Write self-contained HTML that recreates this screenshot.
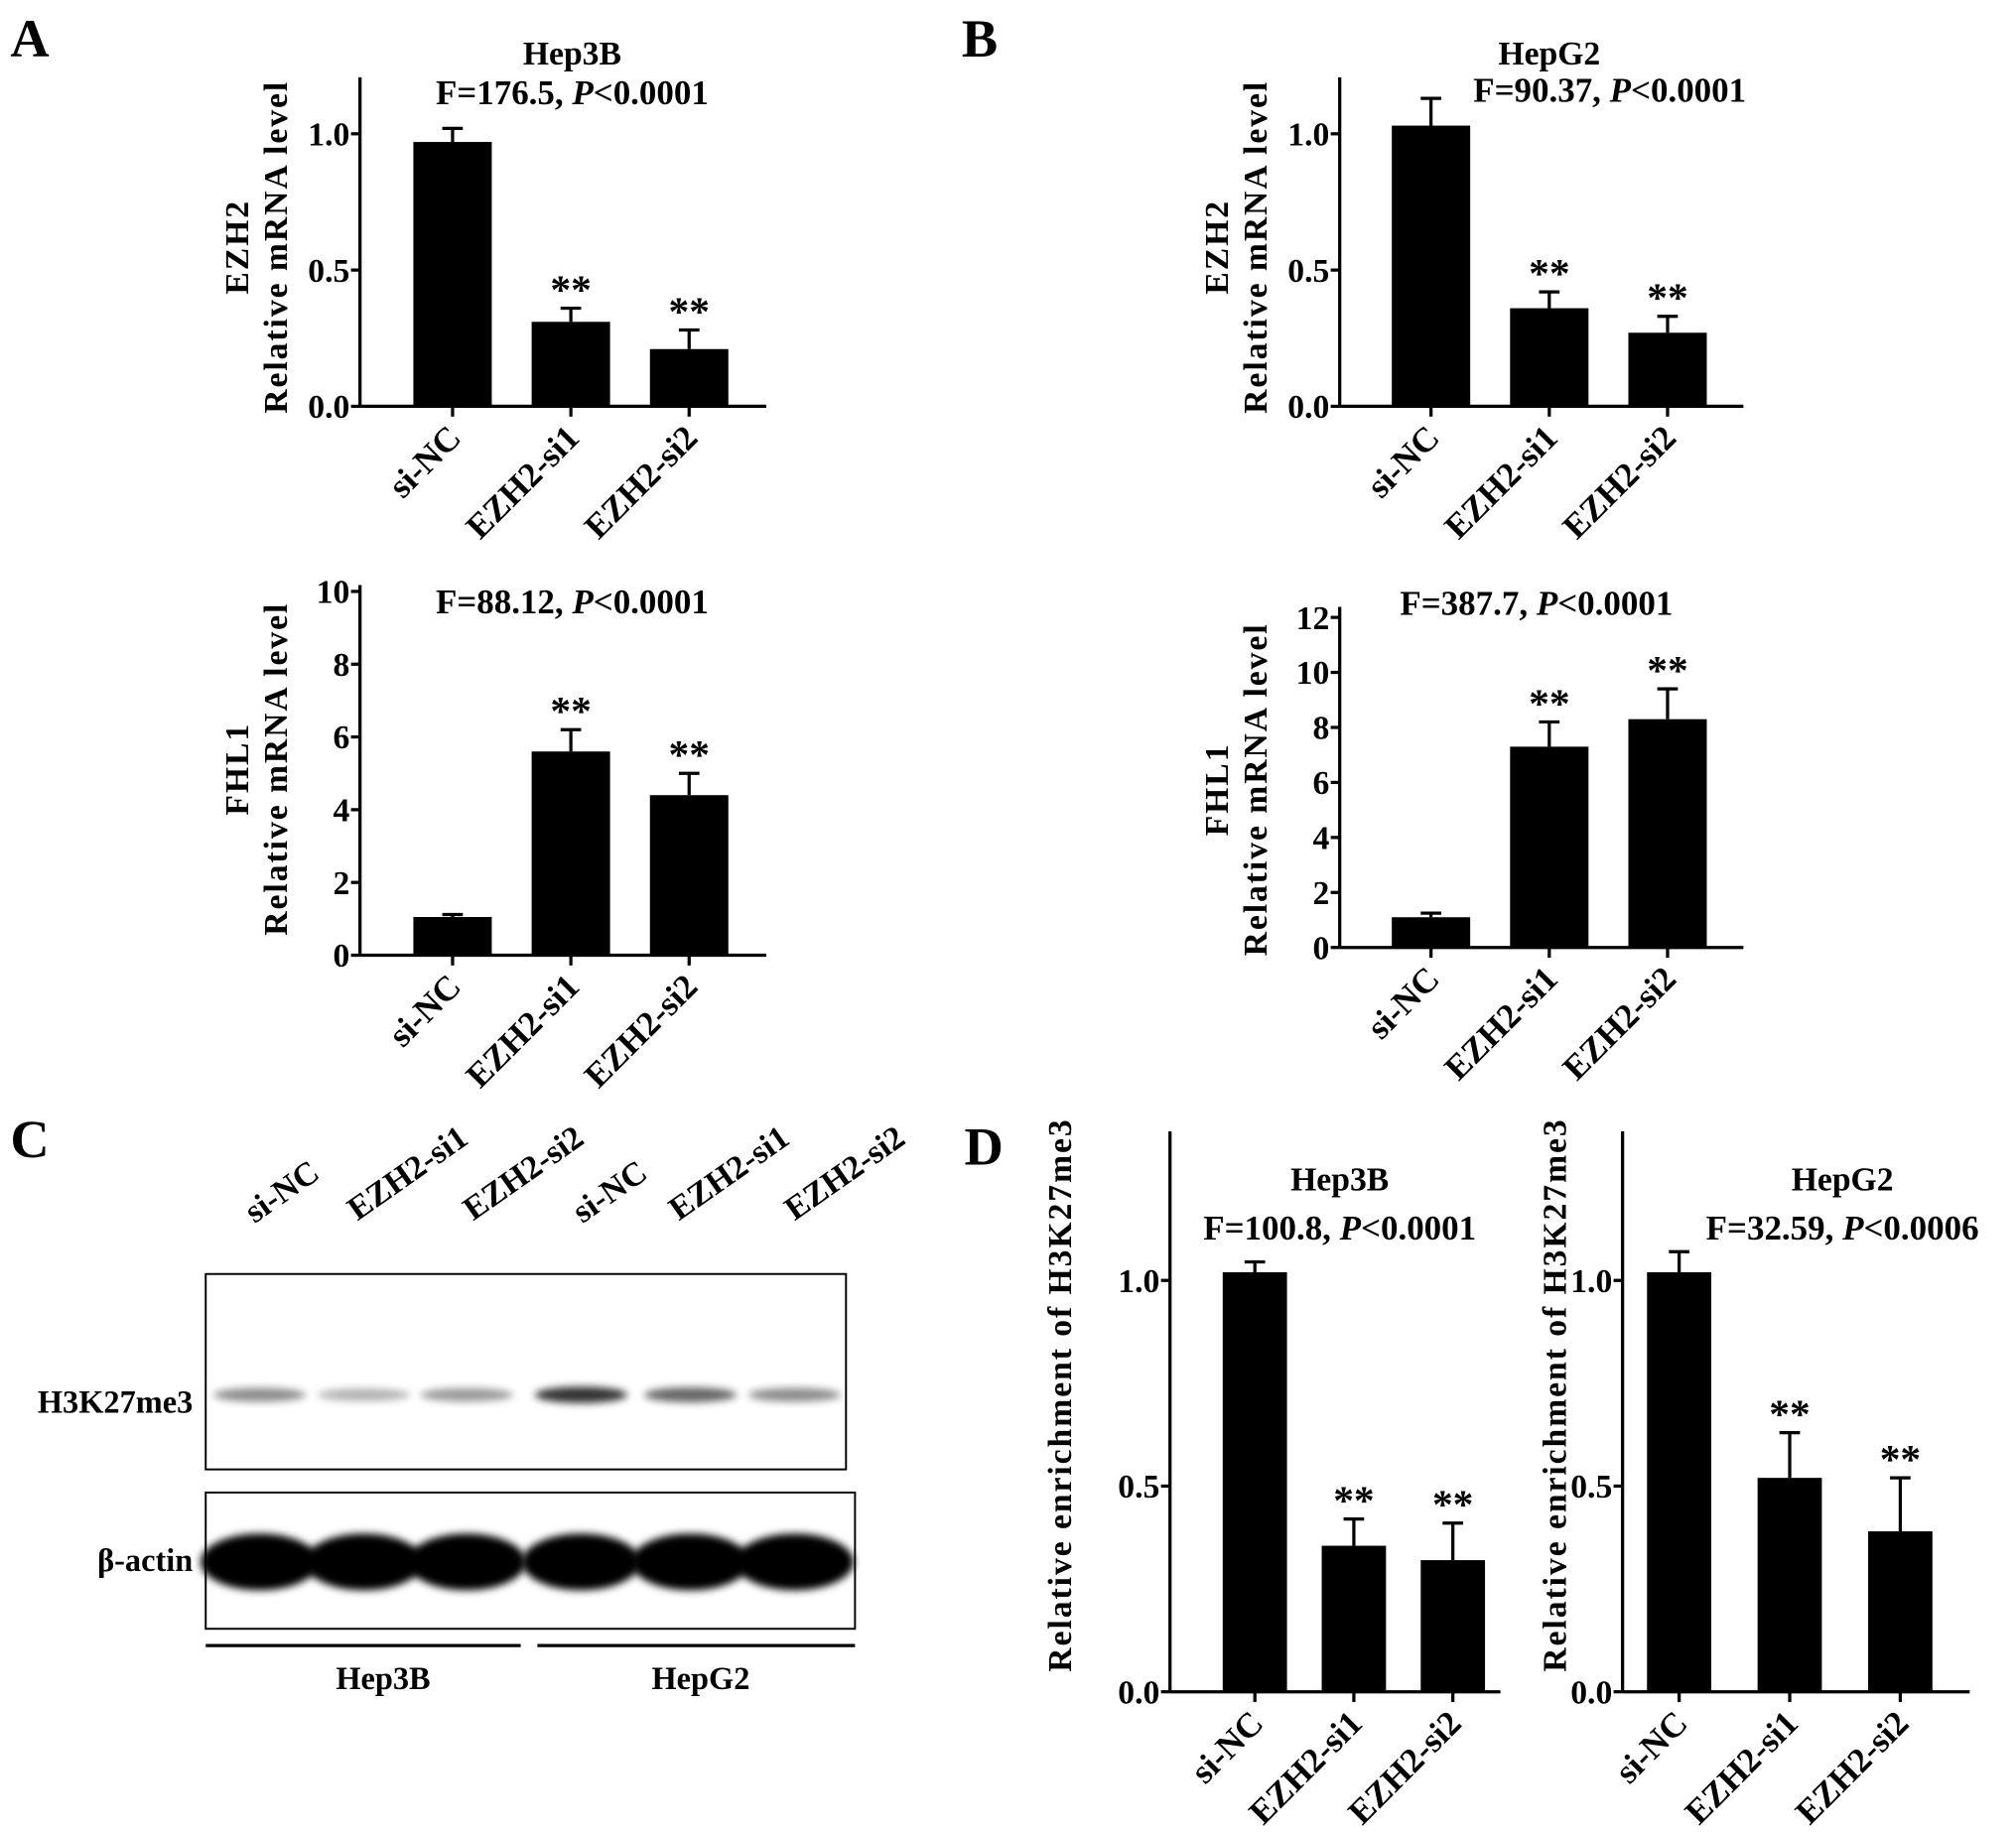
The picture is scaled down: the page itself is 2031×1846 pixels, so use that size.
<!DOCTYPE html>
<html><head><meta charset="utf-8">
<style>
html,body{margin:0;padding:0;background:#fff;}
svg{display:block;}
text{font-family:"Liberation Serif",serif;font-weight:bold;fill:#000;}
</style></head>
<body>
<svg id="fig" xmlns="http://www.w3.org/2000/svg" width="2031" height="1846" viewBox="0 0 1568 1425">
  <text x="8" y="44" font-size="42">A</text>
  <text x="748" y="44" font-size="42">B</text>
  <text x="8" y="900" font-size="42">C</text>
  <text x="750" y="906" font-size="42">D</text>

  <g id="blot">
    <rect x="160" y="991" width="498" height="152" fill="none" stroke="#000" stroke-width="1.5"/>
    <rect x="160" y="1161" width="505" height="106" fill="none" stroke="#000" stroke-width="1.5"/>
    <text x="150" y="1099" font-size="25" text-anchor="end">H3K27me3</text>
    <text x="150" y="1222" font-size="25" text-anchor="end">β-actin</text>
    <line x1="160" y1="1280" x2="405" y2="1280" stroke="#000" stroke-width="2.5"/>
    <line x1="418" y1="1280" x2="665" y2="1280" stroke="#000" stroke-width="2.5"/>
    <text x="298" y="1314" font-size="25" text-anchor="middle">Hep3B</text>
    <text x="545" y="1314" font-size="25" text-anchor="middle">HepG2</text>
  </g>
</svg>
<script>
const NS="http://www.w3.org/2000/svg";
const svg=document.getElementById('fig');
const categories=["si-NC","EZH2-si1","EZH2-si2"];
// Panel A top (Hep3B EZH2)
const aTopValues=[0.97,0.31,0.21];
const aTopErrors=[0.05,0.05,0.07];
const aTopTicks=["0.0","0.5","1.0"];
// Panel A bottom (Hep3B FHL1)
const aBotValues=[1.05,5.6,4.4];
const aBotErrors=[0.07,0.6,0.6];
const aBotTicks=["0","2","4","6","8","10"];
// Panel B top (HepG2 EZH2)
const bTopValues=[1.03,0.36,0.27];
const bTopErrors=[0.1,0.06,0.06];
const bTopTicks=["0.0","0.5","1.0"];
// Panel B bottom (HepG2 FHL1)
const bBotValues=[1.1,7.3,8.3];
const bBotErrors=[0.15,0.9,1.1];
const bBotTicks=["0","2","4","6","8","10","12"];
// Panel D (H3K27me3 ChIP)
const dLeftValues=[1.02,0.355,0.32];
const dLeftErrors=[0.025,0.065,0.09];
const dRightValues=[1.02,0.52,0.39];
const dRightErrors=[0.05,0.11,0.13];
const dTicks=["0.0","0.5","1.0"];
// Blot band intensities (0-1)
const blotLanes=["si-NC","EZH2-si1","EZH2-si2","si-NC","EZH2-si1","EZH2-si2"];
const h3Intensity=[0.45,0.3,0.4,0.8,0.6,0.45];
const actinIntensity=[1,1,1,1,1,1];

function mk(tag,attrs,parent){const e=document.createElementNS(NS,tag);for(const k in attrs)e.setAttribute(k,attrs[k]);(parent||svg).appendChild(e);return e;}

function panel(p){
  const g=mk('g',{});
  
  
  const yS=v=>p.y0-v*p.unit;
  const ax=mk('line',{x1:p.ax,y1:p.yTop,x2:p.ax,y2:p.y0,stroke:'#000','stroke-width':2.5},g);
  
  
  const xa=mk('line',{x1:p.ax,y1:p.y0,x2:p.xEnd,y2:p.y0,stroke:'#000','stroke-width':2.5},g);
  
  
  p.ticks.forEach(t=>{
    const y=yS(parseFloat(t));
    mk('line',{x1:p.ax-7,y1:y,x2:p.ax,y2:y,stroke:'#000','stroke-width':2.5},g);
    const tx=mk('text',{x:p.ax-8,y:y+9,'font-size':26,'text-anchor':'end'},g);
    tx.textContent=t;
    
    
  });
  categories.forEach((c,i)=>{
    const cx=p.cx0+i*p.step, v=p.vals[i], e=p.errs[i];
    const yt=yS(v), ye=yS(v+e);
    mk('line',{x1:cx,y1:ye,x2:cx,y2:yt,stroke:'#000','stroke-width':2.5},g);
    mk('line',{x1:cx-8,y1:ye,x2:cx+8,y2:ye,stroke:'#000','stroke-width':2.5},g);
    const b=mk('rect',{x:cx-p.bw/2,y:yt,width:p.bw,height:p.y0-yt,fill:'#000'},g);
    
    
    mk('line',{x1:cx,y1:p.y0,x2:cx,y2:p.y0+8,stroke:'#000','stroke-width':2.5},g);
    const lb=mk('text',{x:cx+8,y:p.y0+26,'font-size':27,'text-anchor':'end',transform:`rotate(-45 ${cx+8} ${p.y0+26})`},g);
    lb.textContent=c;
    
    
    if(i>0){
      const st=mk('text',{x:cx,y:ye-4,'font-size':32,'text-anchor':'middle'},g);
      st.textContent='**';
      
      
    }
  });
  if(p.title){
    const t=mk('text',{x:p.ttx||p.tx,y:p.ty0,'font-size':26,'text-anchor':'middle'},g);
    t.textContent=p.title;
    
    
  }
  const f=mk('text',{x:p.tx,y:p.ty1,'font-size':27,'text-anchor':'middle'},g);
  f.innerHTML=p.fstat+', <tspan font-style="italic">P</tspan>&lt;'+p.pval;
  
  
  p.ylabels.forEach((l,j)=>{
    const x=p.ylx[j];
    const t=mk('text',{x:x,y:p.ylc,'font-size':26,'letter-spacing':1.5,'text-anchor':'middle',transform:`rotate(-90 ${x} ${p.ylc})`},g);
    t.textContent=l;
    
    
  });
}

panel({name:'chart-a-ezh2',ax:280,y0:316,unit:212,yTop:60,xEnd:596,ticks:aTopTicks,vals:aTopValues,errs:aTopErrors,cx0:352,step:92,bw:61,title:'Hep3B',tx:445,ty0:50,ty1:81,fstat:'F=176.5',pval:'0.0001',ylabels:['EZH2','Relative mRNA level'],ylx:[193,223],ylc:192});
panel({name:'chart-a-fhl1',ax:280,y0:743,unit:28.3,yTop:455,xEnd:596,ticks:aBotTicks,vals:aBotValues,errs:aBotErrors,cx0:352,step:92,bw:61,tx:445,ty1:477,fstat:'F=88.12',pval:'0.0001',ylabels:['FHL1','Relative mRNA level'],ylx:[193,223],ylc:598});
panel({name:'chart-b-ezh2',ax:1042,y0:316,unit:212,yTop:60,xEnd:1356,ticks:bTopTicks,vals:bTopValues,errs:bTopErrors,cx0:1113,step:92,bw:61,title:'HepG2',ttx:1205,tx:1252,ty0:50,ty1:79,fstat:'F=90.37',pval:'0.0001',ylabels:['EZH2','Relative mRNA level'],ylx:[955,985],ylc:192});
panel({name:'chart-b-fhl1',ax:1042,y0:737,unit:21.4,yTop:472,xEnd:1356,ticks:bBotTicks,vals:bBotValues,errs:bBotErrors,cx0:1113,step:92,bw:61,tx:1195,ty1:478,fstat:'F=387.7',pval:'0.0001',ylabels:['FHL1','Relative mRNA level'],ylx:[955,985],ylc:614});
panel({name:'chart-d-hep3b',ax:910,y0:1316,unit:320,yTop:880,xEnd:1167,ticks:dTicks,vals:dLeftValues,errs:dLeftErrors,cx0:976,step:77,bw:50,title:'Hep3B',tx:1042,ty0:926,ty1:964,fstat:'F=100.8',pval:'0.0001',ylabels:['Relative enrichment of H3K27me3'],ylx:[833],ylc:1085});
panel({name:'chart-d-hepg2',ax:1262,y0:1316,unit:320,yTop:880,xEnd:1532,ticks:dTicks,vals:dRightValues,errs:dRightErrors,cx0:1306,step:86,bw:50,title:'HepG2',tx:1433,ty0:926,ty1:964,fstat:'F=32.59',pval:'0.0006',ylabels:['Relative enrichment of H3K27me3'],ylx:[1218],ylc:1085});

// Blot lanes
const blot=document.getElementById('blot');
const defs=mk('defs',{});
const flt=mk('filter',{id:'blur',x:'-20%',y:'-50%',width:'140%',height:'200%'},defs);
mk('feGaussianBlur',{stdDeviation:3},flt);
const laneX=[202,283,363,452,537,618];
const labelPos=[[198,952],[278,950],[368,950],[453,952],[528,950],[618,950]];
blotLanes.forEach((l,i)=>{
  const cx=laneX[i];
  const h=h3Intensity[i], a=actinIntensity[i];
  const b1=mk('ellipse',{cx:cx,cy:1085,rx:36,ry:4+h*3,fill:'#000','fill-opacity':h,filter:'url(#blur)'},blot);
  
  
  const b2=mk('ellipse',{cx:cx,cy:1215,rx:46,ry:22*a,fill:'#000',filter:'url(#blur)'},blot);
  
  
  const [lx,ly]=labelPos[i];
  const t=mk('text',{x:lx,y:ly,'font-size':26,transform:`rotate(-35 ${lx} ${ly})`},blot);
  t.textContent=l;
  
  
});
</script>
</body></html>
